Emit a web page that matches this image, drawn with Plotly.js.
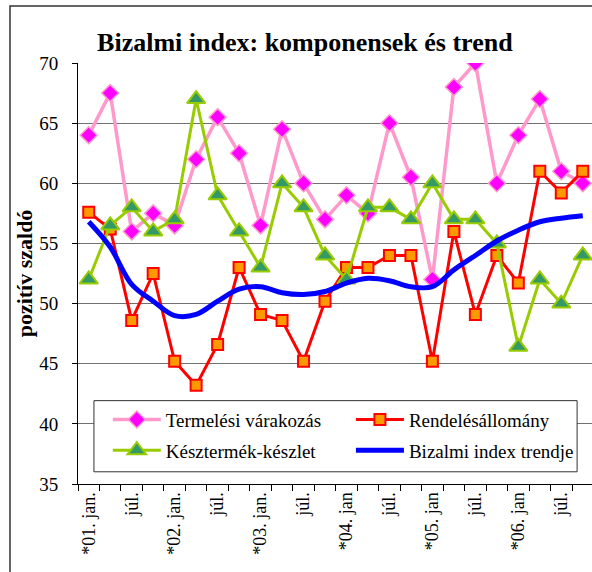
<!DOCTYPE html>
<html><head><meta charset="utf-8">
<script src="https://cdn.plot.ly/plotly-3.0.1.min.js"></script>
<style>html,body{margin:0;padding:0;overflow:hidden;background:#fff}#chart{width:592px;height:572px}</style>
</head><body><div id="chart"></div>
<script>
const xIdx = [0,1,2,3,4,5,6,7,8,9,10,11,12,13,14,15,16,17,18,19,20,21,22,23];
const tickPos = [0,2,4,6,8,10,12,14,16,18,20,22];
const tickLabels = ["*01. jan.","júl.","*02. jan.","júl.","*03. jan.","júl.","*04. jan","júl.","*05. jan","júl.","*06. jan","júl."];
const termelesi = [64,67.5,56,57.5,56.5,62,65.5,62.5,56.5,64.5,60,57,59,57.5,65,60.5,52,68,70,60,64,67,61,60];
const rendeles = [57.6,56.2,48.6,52.5,45.2,43.2,46.6,53,49.1,48.6,45.2,50.2,53,53,54,54,45.2,56,49.1,54,51.7,61,59.2,61];
const keszlet = [52,56.5,58,56,57,67,59,56,53,60,58,54,52,58,58,57,60,57,57,55,46.4,52,50,54];
const trend = [56.8,54.7,51.6,50.2,49.0,49.1,50.2,51.2,51.4,50.9,50.75,51.0,51.7,52.1,51.9,51.4,51.4,52.8,54,55.2,56.1,56.8,57.1,57.3];

const serif = 'Liberation Serif, Times New Roman, serif';
const traces = [
  {x:xIdx, y:termelesi, name:'Termelési várakozás', mode:'lines+markers', legend:'legend', legendgroup:'a',
   line:{color:'#FF99CC', width:3.5},
   marker:{symbol:'diamond', size:13, color:'#FF00FF', line:{color:'#FF99CC', width:1.5}}},
  {x:xIdx, y:rendeles, name:'Rendelésállomány', mode:'lines+markers', legend:'legend2', legendgroup:'b',
   line:{color:'#FF0000', width:3},
   marker:{symbol:'square', size:11, color:'#FF9900', line:{color:'#FF0000', width:2}}},
  {x:xIdx, y:keszlet, name:'Késztermék-készlet', mode:'lines+markers', legend:'legend', legendgroup:'c',
   line:{color:'#99CC00', width:3},
   marker:{symbol:'triangle-up', size:16, color:'#339966', line:{color:'#99CC00', width:2}}},
  {x:xIdx, y:trend, name:'Bizalmi index trendje', mode:'lines', legend:'legend2', legendgroup:'d',
   line:{color:'#0000FF', width:5, shape:'spline', smoothing:1}}
];
const legendCommon = {orientation:'v', yanchor:'top', y:0.198, xanchor:'left',
  bgcolor:'rgba(0,0,0,0)', borderwidth:0, tracegroupgap:3, itemwidth:48,
  font:{family:serif, size:19, color:'#000'}};
const layout = {
  width:592, height:572,
  margin:{l:78, r:0, t:63, b:88},
  paper_bgcolor:'#fff', plot_bgcolor:'#fff',
  font:{family:serif, color:'#000', size:18},
  showlegend:true,
  title:{text:'<b>Bizalmi index: komponensek és trend</b>', font:{family:serif, size:26, color:'#000'},
         x:0.515, xanchor:'center', y:0.927, yanchor:'middle'},
  xaxis:{range:[-0.5,23.43], tickmode:'array', tickvals:tickPos, ticktext:tickLabels, tickangle:-90,
         ticks:'', showgrid:false, zeroline:false, showline:true, linecolor:'#000', linewidth:1,
         tickfont:{family:serif, size:18},
         minor:{tickmode:'linear', tick0:-0.5, dtick:1, ticks:'outside', ticklen:6, tickcolor:'#000', tickwidth:1, showgrid:false}},
  yaxis:{range:[35,70], dtick:5, tick0:35, ticks:'outside', ticklen:5, tickcolor:'#000',
         showgrid:true, gridcolor:'#707070', gridwidth:1, zeroline:false, ticklabelstandoff:10,
         showline:true, linecolor:'#000', linewidth:1, tickfont:{family:serif, size:19},
         title:{text:'<b>pozitív szaldó</b>', font:{family:serif, size:22}, standoff:0}},
  legend:Object.assign({}, legendCommon, {x:0.058}),
  legend2:Object.assign({}, legendCommon, {x:0.531}),
  shapes:[
    {type:'path', xref:'paper', yref:'paper', path:'M -0.1323 -0.3 L -0.1323 1.1354 L 1.2 1.1354',
     line:{color:'#333', width:1.5}},
    {type:'rect', xref:'paper', yref:'paper', x0:0.031, x1:0.971, y0:0.029, y1:0.198,
     fillcolor:'#fff', line:{color:'#333', width:1}, layer:'above'}
  ]
};
Plotly.newPlot('chart', traces, layout, {displayModeBar:false, staticPlot:true});
</script></body></html>
